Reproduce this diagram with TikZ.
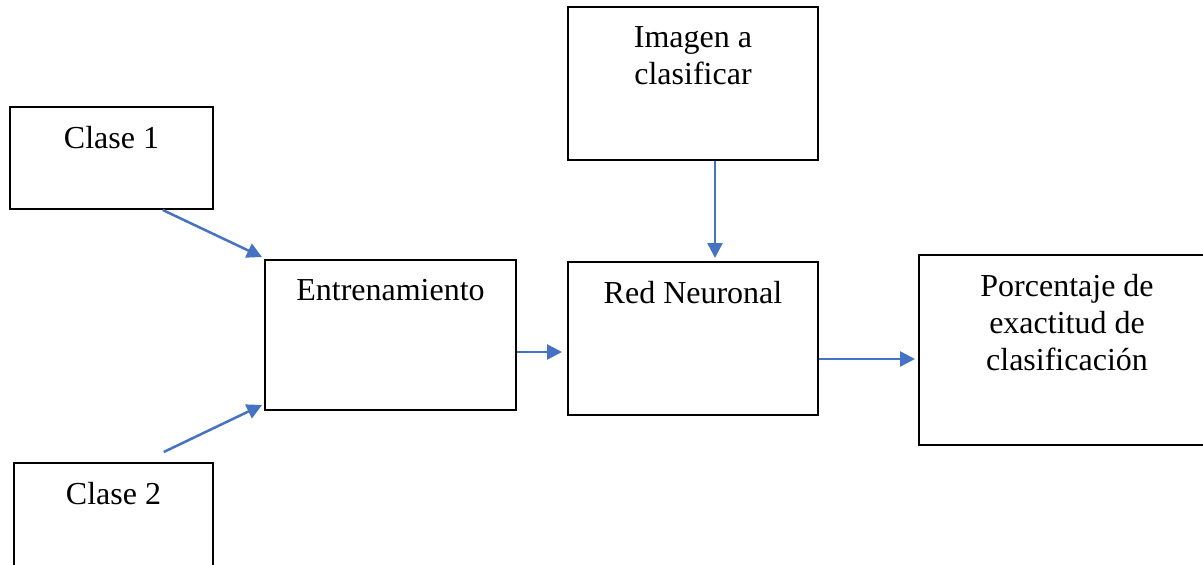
\documentclass[tikz,border=0pt]{standalone}
\usepackage{fontspec}
\setmainfont{Liberation Serif}
\usetikzlibrary{calc, arrows.meta}

\definecolor{flecha}{HTML}{4472C4}
\tikzset{
    caja/.style={draw=black, line width=1pt, rectangle, inner sep=0pt},
    rotulo/.style={anchor=north, inner sep=0pt, yshift=-10pt, align=center,
        font=\fontsize{16}{18.5}\selectfont},
    flechaazul/.style={draw=flecha, line width=1.25pt, -{Triangle[length=7.5pt,width=7.5pt]}}
}

\begin{document}
\begin{tikzpicture}[x=0.5pt, y=0.5pt]
    \useasboundingbox (0,0) rectangle (1203,564);

    \node[caja, minimum width=101.5pt, minimum height=51pt, label={[rotulo]north:Clase 1}] (cl1) at (111.5,406) {}; %clase 1
    \node[caja, minimum width=99.5pt, minimum height=55pt, label={[rotulo]north:Clase 2}] (cl2) at (113.5,46) {}; %clase 2
    \node[caja, minimum width=125.5pt, minimum height=75pt, label={[rotulo]north:Entrenamiento}] (ent) at (390.5,229) {}; %entrenamiento
    \node[caja, minimum width=125pt, minimum height=76.5pt, label={[rotulo]north:Red Neuronal}] (red) at (693,225.5) {}; %red
    \node[caja, minimum width=125pt, minimum height=76.5pt, label={[rotulo]north:Imagen a\\clasificar}] (img) at (693,480.5) {}; %imagen
    \node[caja, minimum width=148pt, minimum height=95pt, label={[rotulo]north:Porcentaje de\\exactitud de\\clasificación}] (por) at (1067,214) {}; %porcentaje

    \coordinate (s1) at ($(cl1.south west)!0.75!(cl1.south east)$);
    \coordinate (s2) at ($(cl2.north west)!0.75!(cl2.north east)+(0,10)$);
    \coordinate (s3) at ($(ent.east)+(0,-17)$);
    \coordinate (s4) at ($(img.south)+(22,0)$);
    \coordinate (s5) at ($(red.east)+(0,-20.5)$);

    \draw[flechaazul] (s1) -- ($(ent.north west)+(-2,2)$);
    \draw[flechaazul] (s2) -- ($(ent.south west)+(-2,6)$);
    \draw[flechaazul, shorten >=2.5pt] (s3) -- (red.west |- s3);
    \draw[flechaazul, shorten >=1.5pt] (s4) -- (red.north -| s4);
    \draw[flechaazul, shorten >=1.5pt] (s5) -- (por.west |- s5);
\end{tikzpicture}
\end{document}
